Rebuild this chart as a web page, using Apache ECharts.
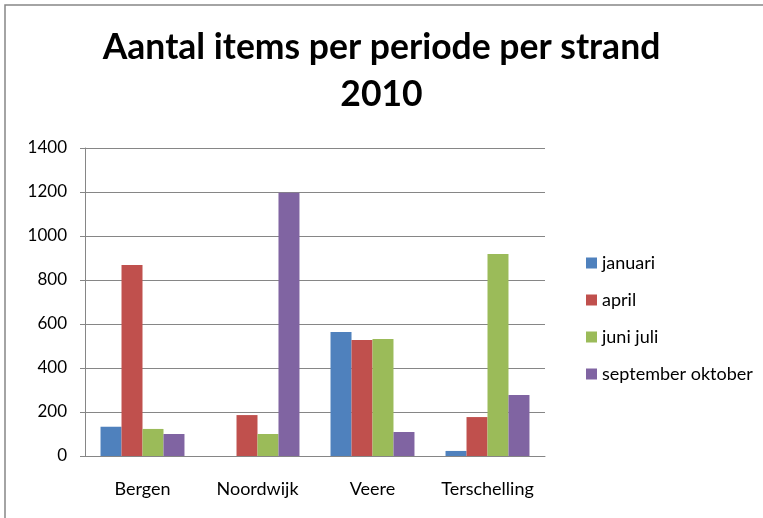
<!DOCTYPE html>
<html><head><meta charset="utf-8">
<script src="https://cdn.jsdelivr.net/npm/echarts@6/dist/echarts.min.js"></script>
<style>html,body{margin:0;padding:0;background:#fff}#c{width:763px;height:518px}</style>
</head><body><div id="c"></div>
<script>
const categories = ['Bergen', 'Noordwijk', 'Veere', 'Terschelling'];
const seriesNames = ['januari', 'april', 'juni juli', 'september oktober'];
const januari = [133, 0, 564, 23];
const april = [868, 186, 527, 177];
const juniJuli = [123, 100, 532, 918];
const septemberOktober = [100, 1197, 109, 277];
const yTicks = { min: 0, max: 1400, interval: 200 };
const colors = ['#4F81BD', '#C0504D', '#9BBB59', '#8064A2'];
const values = [januari, april, juniJuli, septemberOktober];

const chart = echarts.init(document.getElementById('c'));
chart.setOption({
  animation: false,
  textStyle: { fontFamily: 'Lato' },
  title: {
    text: 'Aantal items per periode per strand\n2010',
    left: 'center', top: 19,
    textStyle: { fontFamily: 'Lato', fontWeight: 'bold', fontSize: 35.5, color: '#000', lineHeight: 47 }
  },
  graphic: [{ type: 'rect', shape: { x: 5, y: 5, width: 800, height: 600 }, style: { fill: 'none', stroke: '#868686', lineWidth: 1.5 }, silent: true }],
  legend: {
    orient: 'vertical', left: 581, top: 249,
    itemWidth: 11, itemHeight: 11, itemGap: 19,
    icon: 'rect',
    textStyle: { fontFamily: 'Lato', fontSize: 18, color: '#000', lineHeight: 18 },
    data: seriesNames
  },
  grid: { left: 85, right: 218, top: 148, bottom: 62, containLabel: false },
  xAxis: {
    type: 'category', data: categories,
    axisLine: { lineStyle: { color: '#868686', width: 1 } },
    axisTick: { show: false },
    axisLabel: { color: '#000', fontSize: 18, margin: 24, fontFamily: 'Lato', interval: 0, hideOverlap: false }
  },
  yAxis: {
    type: 'value', min: yTicks.min, max: yTicks.max, interval: yTicks.interval,
    axisLine: { show: true, lineStyle: { color: '#868686', width: 1 } },
    axisTick: { show: true, inside: false, length: 5, lineStyle: { color: '#868686' } },
    splitLine: { lineStyle: { color: '#868686', width: 1.2 } },
    axisLabel: { color: '#000', fontSize: 17, margin: 18, fontFamily: 'Lato', formatter: v => String(v) }
  },
  series: seriesNames.map((n, i) => ({
    name: n, type: 'bar', data: values[i],
    itemStyle: { color: colors[i] },
    barGap: '0%', barCategoryGap: '27%'
  }))
});
</script></body></html>
